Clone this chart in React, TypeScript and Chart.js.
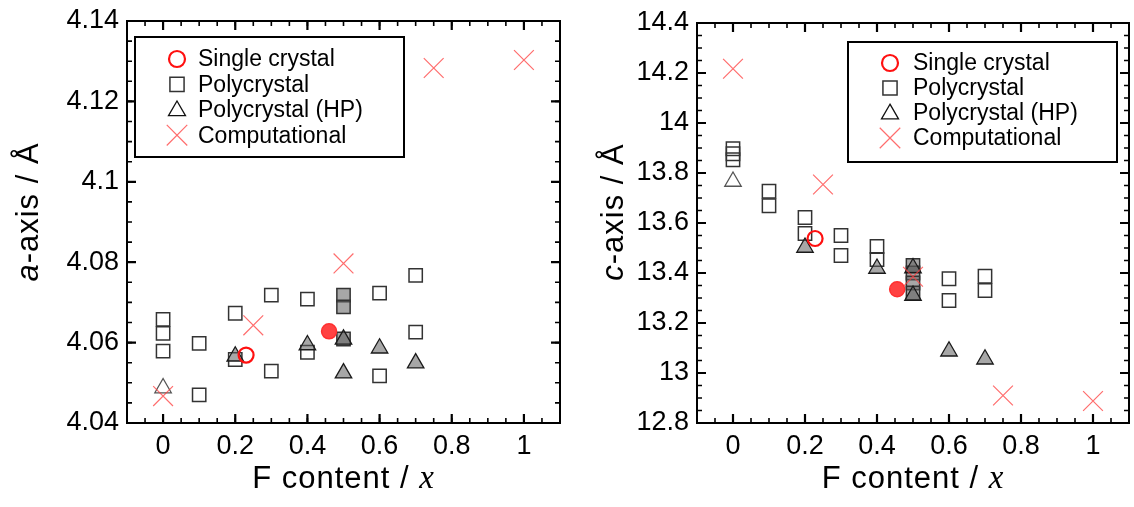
import React, { useEffect, useRef } from 'react';
import { Chart, registerables } from 'chart.js';
Chart.register(...registerables);

const SANS = '"Liberation Sans", Arial, sans-serif';
const SERIF = '"Liberation Serif", "Times New Roman", serif';

// ---------- data ----------
const xTicks = [0, 0.2, 0.4, 0.6, 0.8, 1];
const aTicks = [4.04, 4.06, 4.08, 4.1, 4.12, 4.14];
const cTicks = [12.8, 13, 13.2, 13.4, 13.6, 13.8, 14, 14.2, 14.4];
const seriesLabels = ['Single crystal', 'Polycrystal', 'Polycrystal (HP)', 'Computational'];

// a-axis panel
const aSingleOpenX = [0.23];
const aSingleOpenY = [4.0569];
const aSingleFilledX = [0.46];
const aSingleFilledY = [4.0628];
const aPolyOpenX = [0, 0, 0, 0.1, 0.1, 0.2, 0.2, 0.3, 0.3, 0.4, 0.4, 0.6, 0.6, 0.7, 0.7];
const aPolyOpenY = [4.0658, 4.0623, 4.0579, 4.0598, 4.047, 4.0673, 4.0558, 4.0718, 4.0529, 4.0708, 4.0576, 4.0723, 4.0517, 4.0767, 4.0626];
const aPolyGrayX = [0.5, 0.5, 0.5];
const aPolyGrayY = [4.0718, 4.0689, 4.0609];
const aHpOpenX = [0];
const aHpOpenY = [4.0487];
const aHpGrayX = [0.2, 0.4, 0.5, 0.5, 0.6, 0.7];
const aHpGrayY = [4.0566, 4.0594, 4.0608, 4.0524, 4.0586, 4.0549];
const aCompX = [0, 0.25, 0.5, 0.75, 1];
const aCompY = [4.0467, 4.0643, 4.0797, 4.1283, 4.1303];

// c-axis panel
const cSingleOpenX = [0.228];
const cSingleOpenY = [13.538];
const cSingleFilledX = [0.456];
const cSingleFilledY = [13.335];
const cPolyOpenX = [0, 0, 0, 0.1, 0.1, 0.2, 0.2, 0.3, 0.3, 0.4, 0.4, 0.6, 0.6, 0.7, 0.7];
const cPolyOpenY = [13.897, 13.877, 13.853, 13.727, 13.669, 13.622, 13.558, 13.55, 13.47, 13.506, 13.454, 13.377, 13.29, 13.387, 13.33];
const cPolyGrayX = [0.5, 0.5, 0.5, 0.5];
const cPolyGrayY = [13.43, 13.4, 13.36, 13.32];
const cHpOpenX = [0];
const cHpOpenY = [13.766];
const cHpGrayX = [0.2, 0.4, 0.5, 0.5, 0.6, 0.7];
const cHpGrayY = [13.502, 13.418, 13.42, 13.31, 13.087, 13.055];
const cCompX = [0, 0.25, 0.5, 0.75, 1];
const cCompY = [14.217, 13.754, 13.385, 12.91, 12.888];

// ---------- styles ----------
type Mk = { pointStyle: string; radius: number; borderColor: string; borderWidth: number; fill: string };
const CLEAR = 'rgba(0,0,0,0)';
const GRAYFILL = 'rgba(95,95,95,0.55)';
const stSingle: Mk = { pointStyle: 'circle', radius: 7.5, borderColor: '#ff1010', borderWidth: 2.2, fill: CLEAR };
const stSingleFilled: Mk = { pointStyle: 'circle', radius: 7.5, borderColor: '#ff3030', borderWidth: 1.5, fill: 'rgba(255,45,45,0.9)' };
const stPoly: Mk = { pointStyle: 'rect', radius: 9.4, borderColor: '#333333', borderWidth: 1.5, fill: CLEAR };
const stPolyGray: Mk = { pointStyle: 'rect', radius: 9.4, borderColor: '#333333', borderWidth: 1.5, fill: GRAYFILL };
const stHp: Mk = { pointStyle: 'triangle', radius: 9.5, borderColor: '#555555', borderWidth: 1.3, fill: CLEAR };
const stHpGray: Mk = { pointStyle: 'triangle', radius: 9.5, borderColor: '#1a1a1a', borderWidth: 1.3, fill: GRAYFILL };
const stComp: Mk = { pointStyle: 'crossRot', radius: 14, borderColor: 'rgba(255,60,60,0.75)', borderWidth: 1.2, fill: CLEAR };
const legendMarkers: Mk[] = [
  { ...stSingle, radius: 8 },
  { ...stPoly, radius: 10 },
  { ...stHp, radius: 9.8, borderColor: '#111' },
  { ...stComp, radius: 14.5 },
];

function ds(label: string, xs: number[], ys: number[], st: Mk, order: number) {
  return {
    label,
    data: xs.map((x, i) => ({ x, y: ys[i] })),
    pointStyle: st.pointStyle,
    pointRadius: st.radius,
    pointBorderColor: st.borderColor,
    pointBackgroundColor: st.fill,
    pointBorderWidth: st.borderWidth,
    showLine: false,
    clip: false,
    order,
  };
}

const fmt = (v: number) => String(+v.toFixed(3));

// ---------- plugins ----------
const framePlugin = {
  id: 'frame',
  beforeDatasetsDraw(chart: any, _a: any, opts: any) {
    const { ctx, chartArea } = chart;
    const { left, right, top, bottom } = chartArea;
    const xs = chart.scales.x;
    const ys = chart.scales.y;
    ctx.save();
    ctx.strokeStyle = '#000';
    const tickX = (v: number, len: number, lw: number) => {
      const p = xs.getPixelForValue(v);
      ctx.lineWidth = lw;
      ctx.beginPath();
      ctx.moveTo(p, bottom);
      ctx.lineTo(p, bottom - len);
      ctx.moveTo(p, top);
      ctx.lineTo(p, top + len);
      ctx.stroke();
    };
    const tickY = (v: number, len: number, lw: number) => {
      const p = ys.getPixelForValue(v);
      ctx.lineWidth = lw;
      ctx.beginPath();
      ctx.moveTo(left, p);
      ctx.lineTo(left + len, p);
      ctx.moveTo(right, p);
      ctx.lineTo(right - len, p);
      ctx.stroke();
    };
    const minor = (min: number, max: number, step: number, fn: (v: number) => void) => {
      const n = Math.round((max - min) / step);
      for (let i = 1; i < n; i++) fn(min + i * step);
    };
    minor(xs.min, xs.max, opts.xMinor, (v) => tickX(v, 5, 1.6));
    minor(ys.min, ys.max, opts.yMinor, (v) => tickY(v, 5, 1.6));
    opts.xMajor.forEach((v: number) => tickX(v, 9, 2.2));
    opts.yMajor.forEach((v: number) => tickY(v, 9, 2.2));
    ctx.lineWidth = 2;
    ctx.strokeRect(left, top, right - left, bottom - top);
    ctx.restore();
  },
};

function drawSegments(ctx: CanvasRenderingContext2D, segs: { text: string; font: string }[], cx: number, cy: number) {
  (ctx as any).letterSpacing = '1px';
  let total = 0;
  segs.forEach((s) => {
    ctx.font = s.font;
    total += ctx.measureText(s.text).width;
  });
  let x = cx - total / 2;
  ctx.textBaseline = 'middle';
  ctx.textAlign = 'left';
  segs.forEach((s) => {
    ctx.font = s.font;
    ctx.fillText(s.text, x, cy);
    x += ctx.measureText(s.text).width;
  });
}

const titlesPlugin = {
  id: 'titles',
  afterDraw(chart: any, _a: any, opts: any) {
    const { ctx, chartArea } = chart;
    ctx.save();
    ctx.fillStyle = '#000';
    const cx = (chartArea.left + chartArea.right) / 2;
    drawSegments(ctx, opts.xTitle, cx, opts.xTitleY);
    ctx.translate(opts.yTitleX, opts.yTitleY);
    ctx.rotate(-Math.PI / 2);
    drawSegments(ctx, opts.yTitle, 0, 0);
    ctx.restore();
  },
};

function drawMarker(ctx: CanvasRenderingContext2D, m: Mk, x: number, y: number) {
  ctx.save();
  ctx.strokeStyle = m.borderColor;
  ctx.lineWidth = m.borderWidth;
  ctx.beginPath();
  const r = m.radius;
  if (m.pointStyle === 'circle') {
    ctx.arc(x, y, r, 0, Math.PI * 2);
  } else if (m.pointStyle === 'rect') {
    const s = r * Math.SQRT1_2;
    ctx.rect(x - s, y - s, 2 * s, 2 * s);
  } else if (m.pointStyle === 'triangle') {
    for (let k = 0; k < 3; k++) {
      const a = (k * 2 * Math.PI) / 3;
      const px = x + Math.sin(a) * r;
      const py = y - Math.cos(a) * r + r * 0.1;
      if (k === 0) ctx.moveTo(px, py);
      else ctx.lineTo(px, py);
    }
    ctx.closePath();
  } else {
    const d = r * Math.SQRT1_2;
    ctx.moveTo(x - d, y - d);
    ctx.lineTo(x + d, y + d);
    ctx.moveTo(x + d, y - d);
    ctx.lineTo(x - d, y + d);
  }
  ctx.stroke();
  ctx.restore();
}

const boxLegendPlugin = {
  id: 'boxLegend',
  afterDatasetsDraw(chart: any, _a: any, opts: any) {
    const { ctx } = chart;
    ctx.save();
    ctx.fillStyle = '#fff';
    ctx.fillRect(opts.x, opts.y, opts.w, opts.h);
    ctx.strokeStyle = '#000';
    ctx.lineWidth = 2;
    ctx.strokeRect(opts.x, opts.y, opts.w, opts.h);
    ctx.font = `23px ${SANS}`;
    ctx.textBaseline = 'middle';
    ctx.textAlign = 'left';
    ctx.fillStyle = '#000';
    seriesLabels.forEach((label, i) => {
      const yy = opts.row0 + i * opts.rowGap;
      drawMarker(ctx, legendMarkers[i], opts.markerX, yy);
      ctx.fillText(label, opts.textX, yy + 1);
    });
    ctx.restore();
  },
};

// ---------- chart component ----------
type PanelProps = {
  left: number;
  width: number;
  datasets: any[];
  yTicks: number[];
  yMin: number;
  yMax: number;
  yMinor: number;
  yAxisWidth: number;
  padTop: number;
  padRight: number;
  legend: any;
  yTitle: { text: string; font: string }[];
  yTitleX: number;
};

function Panel(p: PanelProps) {
  const ref = useRef<HTMLCanvasElement | null>(null);
  useEffect(() => {
    if (!ref.current) return;
    const tickFont = { family: SANS, size: 27 };
    const chart = new Chart(ref.current, {
      type: 'scatter',
      data: { datasets: p.datasets },
      plugins: [framePlugin, boxLegendPlugin, titlesPlugin],
      options: {
        animation: false,
        responsive: false,
        events: [],
        layout: { autoPadding: false, padding: { left: 0, top: p.padTop, right: p.padRight, bottom: 0 } },
        plugins: {
          legend: { display: false },
          tooltip: { enabled: false },
          frame: { xMinor: 0.05, yMinor: p.yMinor, xMajor: xTicks, yMajor: p.yTicks },
          boxLegend: p.legend,
          titles: {
            xTitle: [
              { text: 'F content / ', font: `31px ${SANS}` },
              { text: 'x', font: `italic 33px ${SERIF}` },
            ],
            xTitleY: 479,
            yTitle: p.yTitle,
            yTitleX: p.yTitleX,
            yTitleY: 212,
          },
        } as any,
        scales: {
          x: {
            type: 'linear',
            min: -0.1,
            max: 1.1,
            afterBuildTicks: (s: any) => {
              s.ticks = xTicks.map((v) => ({ value: v }));
            },
            afterFit: (s: any) => {
              s.height = 84;
              s.paddingLeft = 0;
              s.paddingRight = 0;
            },
            grid: { display: false, drawTicks: false },
            border: { display: false },
            ticks: {
              padding: 7,
              color: '#000',
              font: tickFont,
              maxRotation: 0,
              autoSkip: false,
              callback: (v: any) => fmt(Number(v)),
            },
          },
          y: {
            type: 'linear',
            min: p.yMin,
            max: p.yMax,
            afterBuildTicks: (s: any) => {
              s.ticks = p.yTicks.map((v) => ({ value: v }));
            },
            afterFit: (s: any) => {
              s.width = p.yAxisWidth;
              s.paddingTop = 0;
              s.paddingBottom = 0;
            },
            grid: { display: false, drawTicks: false },
            border: { display: false },
            ticks: {
              padding: 8,
              color: '#000',
              font: tickFont,
              autoSkip: false,
              callback: (v: any) => fmt(Number(v)),
            },
          },
        },
      } as any,
    });
    return () => chart.destroy();
  }, []);
  return (
    <canvas
      ref={ref}
      width={p.width}
      height={507}
      style={{ position: 'absolute', left: p.left, top: 0, width: p.width, height: 507, display: 'block' }}
    />
  );
}

export default function App() {
  const aDatasets = [
    ds(seriesLabels[0], aSingleOpenX, aSingleOpenY, stSingle, 0),
    ds(seriesLabels[0] + ' (filled)', aSingleFilledX, aSingleFilledY, stSingleFilled, 0),
    ds(seriesLabels[1], aPolyOpenX, aPolyOpenY, stPoly, 4),
    ds(seriesLabels[1] + ' (gray)', aPolyGrayX, aPolyGrayY, stPolyGray, 3),
    ds(seriesLabels[2], aHpOpenX, aHpOpenY, stHp, 2),
    ds(seriesLabels[2] + ' (gray)', aHpGrayX, aHpGrayY, stHpGray, 2),
    ds(seriesLabels[3], aCompX, aCompY, stComp, 1),
  ];
  const cDatasets = [
    ds(seriesLabels[0], cSingleOpenX, cSingleOpenY, stSingle, 0),
    ds(seriesLabels[0] + ' (filled)', cSingleFilledX, cSingleFilledY, stSingleFilled, 0),
    ds(seriesLabels[1], cPolyOpenX, cPolyOpenY, stPoly, 4),
    ds(seriesLabels[1] + ' (gray)', cPolyGrayX, cPolyGrayY, stPolyGray, 3),
    ds(seriesLabels[2], cHpOpenX, cHpOpenY, stHp, 2),
    ds(seriesLabels[2] + ' (gray)', cHpGrayX, cHpGrayY, stHpGray, 2),
    ds(seriesLabels[3], cCompX, cCompY, stComp, 1),
  ];
  return (
    <div style={{ position: 'absolute', left: 0, top: 0, width: 1134, height: 507, background: '#fff' }}>
      <Panel
        left={0}
        width={570}
        datasets={aDatasets}
        yTicks={aTicks}
        yMin={4.04}
        yMax={4.14}
        yMinor={0.005}
        yAxisWidth={127}
        padTop={21}
        padRight={10}
        legend={{ x: 135, y: 37, w: 269, h: 120, markerX: 177, textX: 198, row0: 59, rowGap: 25.4 }}
        yTitle={[
          { text: 'a', font: `italic 31px ${SANS}` },
          { text: '-axis / Å', font: `31px ${SANS}` },
        ]}
        yTitleX={29}
      />
      <Panel
        left={580}
        width={554}
        datasets={cDatasets}
        yTicks={cTicks}
        yMin={12.8}
        yMax={14.4}
        yMinor={0.05}
        yAxisWidth={117}
        padTop={23}
        padRight={5}
        legend={{ x: 268, y: 42, w: 269, h: 120, markerX: 310, textX: 333, row0: 63, rowGap: 25 }}
        yTitle={[
          { text: 'c', font: `italic 31px ${SANS}` },
          { text: '-axis / Å', font: `31px ${SANS}` },
        ]}
        yTitleX={34}
      />
    </div>
  );
}
